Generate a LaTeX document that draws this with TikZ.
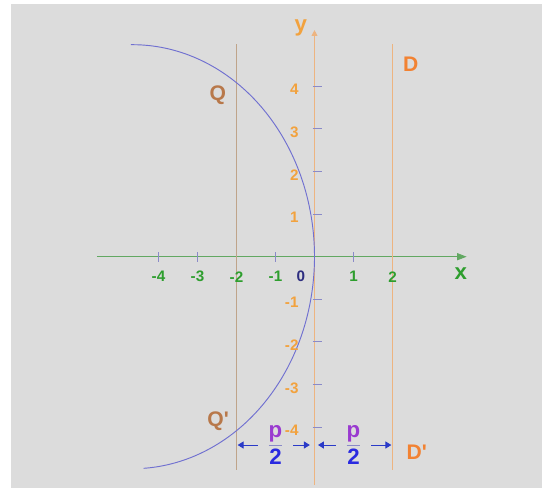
\documentclass[tikz,border=0pt]{standalone}
\usepackage{amsmath}
\usepackage{fontspec}
\setmainfont{Liberation Sans}
\usetikzlibrary{arrows.meta,positioning}

\definecolor{bggray}{HTML}{DCDCDC}
\definecolor{axisgreen}{HTML}{62A862}
\definecolor{labelgreen}{HTML}{2E9E2E}
\definecolor{axisorange}{HTML}{EDB480}
\definecolor{labelorange}{HTML}{F2A23E}
\definecolor{focusbrown}{HTML}{BFA48A}
\definecolor{qbrown}{HTML}{B8784A}
\definecolor{dorange}{HTML}{F28232}
\definecolor{curveblue}{HTML}{7070D0}
\definecolor{tickblue}{HTML}{8A8AC8}
\definecolor{zeronavy}{HTML}{2E2E80}
\definecolor{ppurple}{HTML}{9A3AD0}
\definecolor{twoblue}{HTML}{2A2AE0}
\definecolor{dimblue}{HTML}{2A3AC8}

\begin{document}
\begin{tikzpicture}[
  x=1.17cm, y=1.278cm, line width=0.7pt,
  tick/.style={tickblue, line width=0.8pt},
  xlab/.style={labelgreen, font=\fontsize{13}{13}\selectfont\bfseries},
  ylab/.style={labelorange, anchor=east, font=\fontsize{13}{13}\selectfont\bfseries},
  axlab/.style={font=\fontsize{19}{19}\selectfont\bfseries},
  ptlab/.style={font=\fontsize{18}{18}\selectfont\bfseries},
  dimarr/.style={dimblue, line width=0.8pt, {Triangle[length=5pt,width=6pt]}-{Triangle[length=5pt,width=6pt]}},
  fracbox/.style={fill=bggray, text=tickblue, inner ysep=0pt, inner xsep=0pt, minimum width=1.05cm, font=\fontsize{19}{19}\selectfont\bfseries}
]

% Frame
\fill[white] (-8.064,-5.430) rectangle (5.833,6.026);
\fill[bggray] (-7.782,-5.430) rectangle (5.833,5.932);
\useasboundingbox (-8.064,-5.430) rectangle (5.833,6.026);

% Axes and lines
\draw[axisgreen, -{Triangle[length=8pt,width=6pt]}] (-5.58,0) -- (3.9,0);
\draw[axisorange, -{Triangle[length=5pt,width=5pt]}] (0,-5.36) -- (0,5.32);
\draw[focusbrown] (-2,-5) -- (-2,5);
\draw[axisorange] (2,-5) -- (2,5);

% Ticks
\foreach \i in {-4,-3,-1,1}
  \draw[tick] (\i,-0.12) -- (\i,0.12);
\foreach \i in {-4,...,-1,1,2,...,4}
  \draw[tick] (-0.05,\i) -- (0.2,\i);

% Curve
\draw[curveblue, line width=0.8pt, smooth] plot[domain=90.5:-86.5, samples=90]
  ({-4.667+4.667*cos(\x)},{4.977*sin(\x)});

% p/2 distances
\coordinate (fl) at (-2,-4.42);
\coordinate (fo) at (0,-4.42);
\coordinate (fr) at (2,-4.42);
\draw[dimarr, shorten <=1pt, shorten >=4pt] (fl) -- node[fracbox] (pl)
  {$\dfrac{\textcolor{ppurple}{\text{p}}}{\textcolor{twoblue}{\text{2}}}$} (fo);
\draw[dimarr, shorten <=3pt, shorten >=1pt] (fo) -- node[fracbox] (pr)
  {$\dfrac{\textcolor{ppurple}{\text{p}}}{\textcolor{twoblue}{\text{2}}}$} (fr);

% Tick labels
\foreach \i in {-4,-3,-2,-1,1,2}
  \node[xlab] at (\i,-0.47) {\i};
\node[xlab, zeronavy] (zero) at (-0.35,-0.45) {0};
\foreach \i in {-4,...,-1,1,2,...,4}
  \node[ylab] at (-0.3,{\i-0.08}) {\i};

% Labels
\node[axlab, labelorange] (ylabel) at (-0.35,5.38) {y};
\node[axlab, labelgreen] (xlabel) at (3.75,-0.39) {x};
\node[ptlab, qbrown] (q) at (-2.48,3.80) {Q};
\node[ptlab, qbrown] (qq) at (-2.47,-3.87) {Q\textquotesingle};
\node[ptlab, dorange] (d) at (2.47,4.51) {D};
\node[ptlab, dorange] (dd) at (2.62,-4.6) {D\textquotesingle};

\end{tikzpicture}
\end{document}
